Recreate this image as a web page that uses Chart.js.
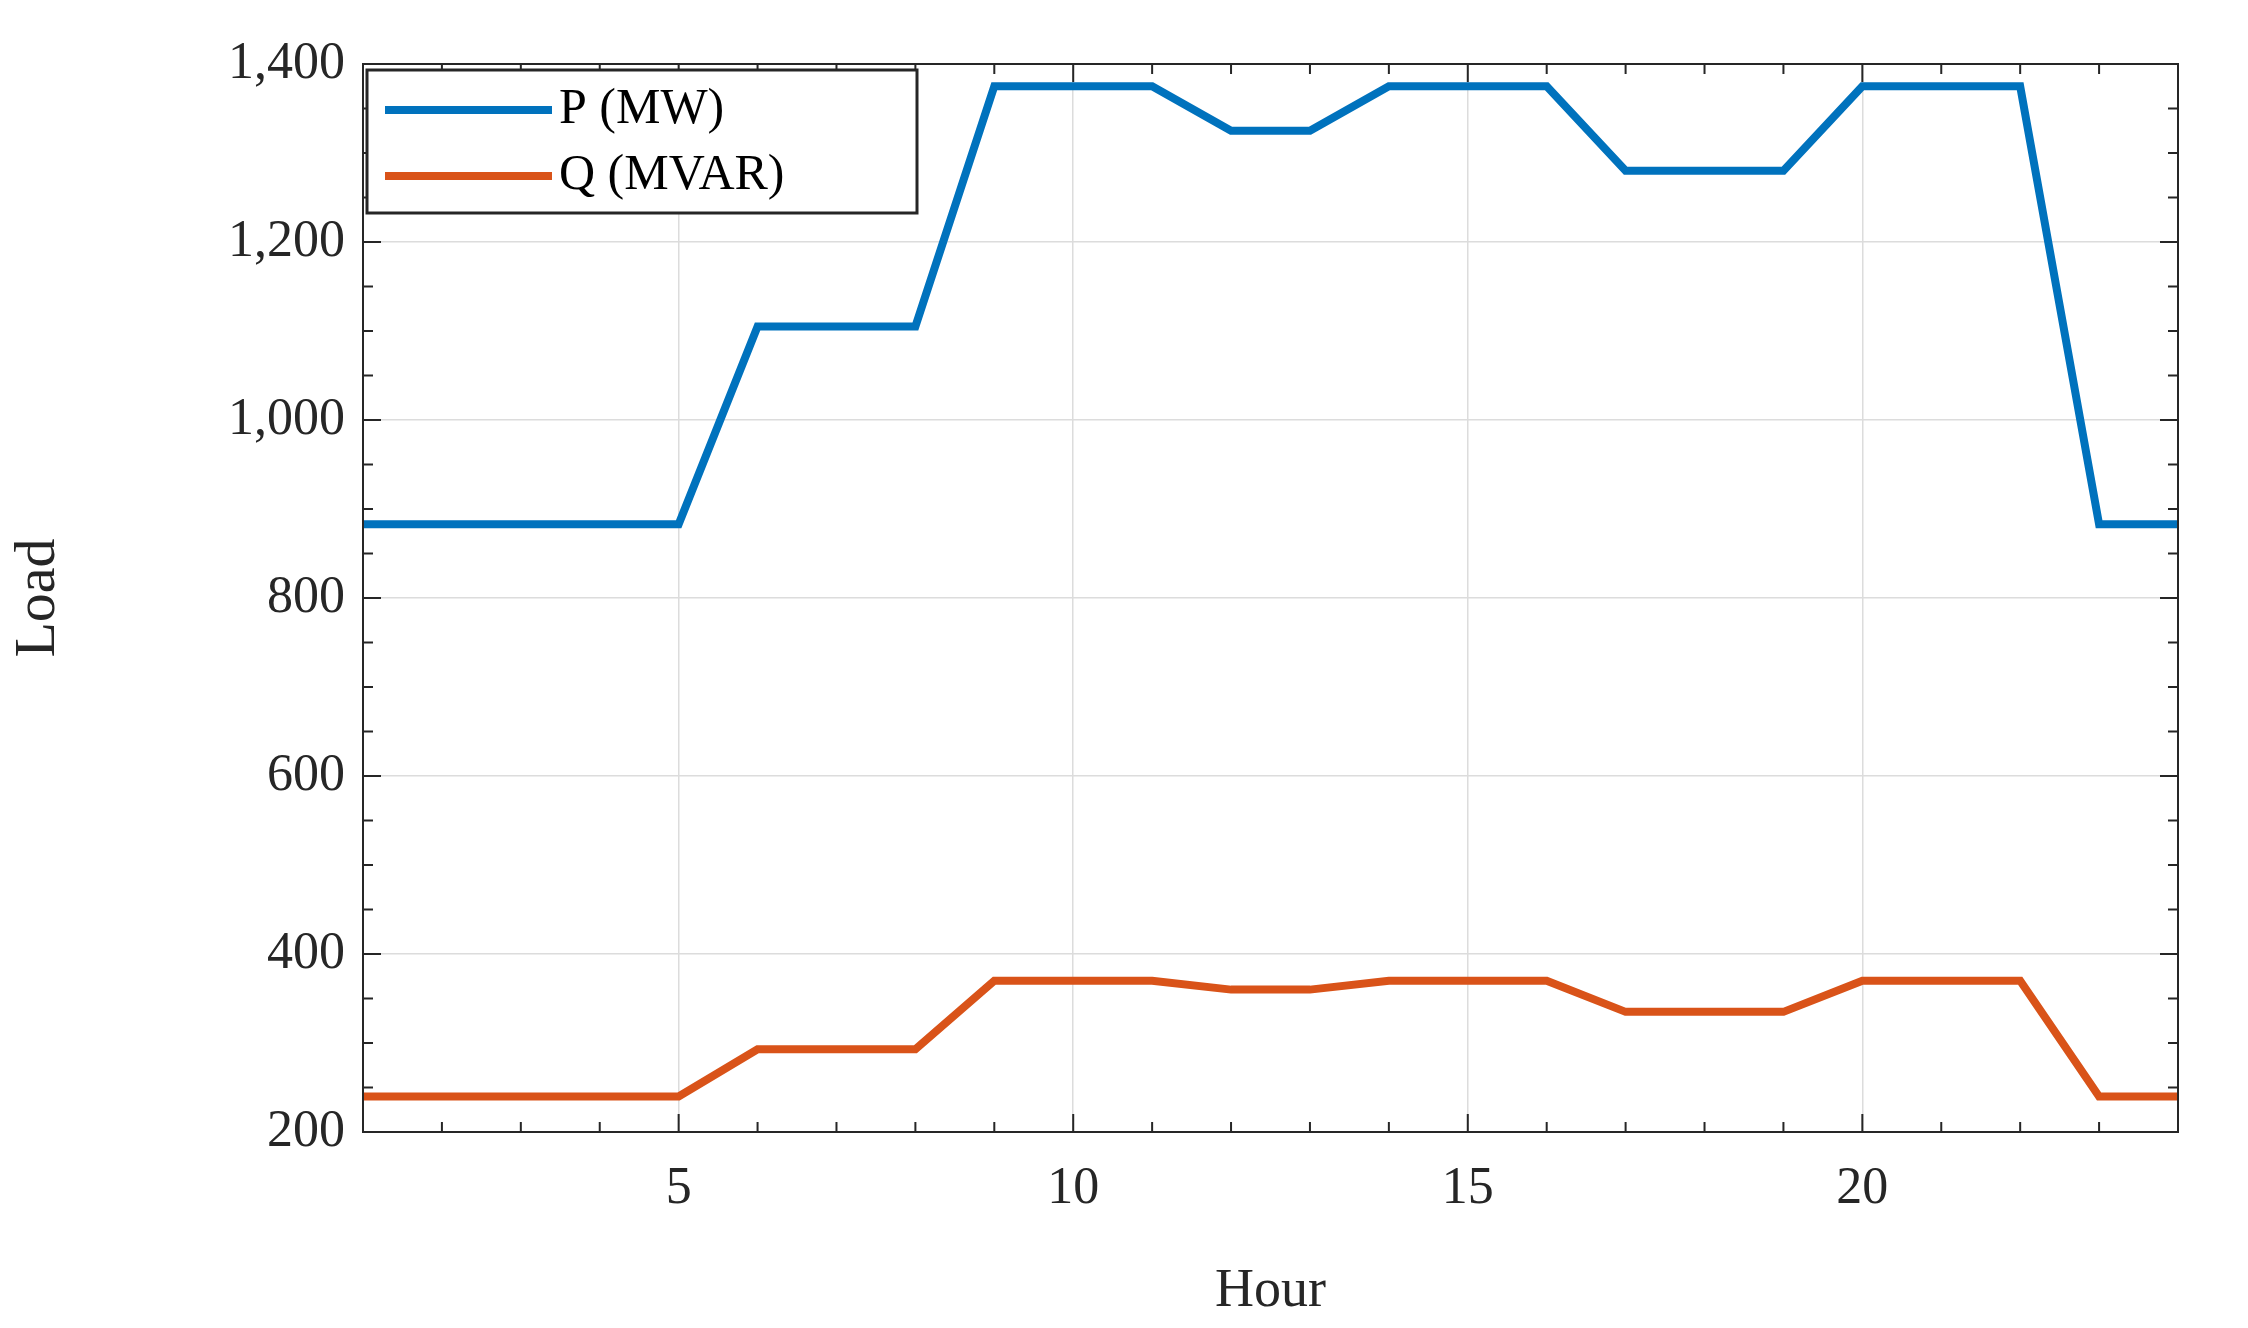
<!DOCTYPE html>
<html>
<head>
<meta charset="utf-8">
<script src="https://cdn.jsdelivr.net/npm/chart.js@4.4.1/dist/chart.umd.min.js"></script>
<style>
html, body { margin: 0; padding: 0; background: #fff; }
#wrap { width: 2248px; height: 1328px; }
</style>
</head>
<body>
<div id="wrap"><canvas id="c" width="2248" height="1328"></canvas></div>
<script>
const hours = [1,2,3,4,5,6,7,8,9,10,11,12,13,14,15,16,17,18,19,20,21,22,23,24];
const pLoad = [883,883,883,883,883,1105,1105,1105,1375,1375,1375,1325,1325,1375,1375,1375,1280,1280,1280,1375,1375,1375,883,883];
const qLoad = [240,240,240,240,240,293,293,293,370,370,370,360,360,370,370,370,335,335,335,370,370,370,240,240];
const xTicks = [5,10,15,20];
const yTicks = [200,400,600,800,1000,1200,1400];
const seriesNames = ["P (MW)", "Q (MVAR)"];
const colors = ["#0072BD", "#D95319"];

const font = "Liberation Serif";

// box, inner ticks and legend, MATLAB style
const boxPlugin = {
    id: "box",
    afterDraw(chart) {
        const ctx = chart.ctx;
        const a = chart.chartArea;
        const xs = chart.scales.x, ys = chart.scales.y;
        ctx.save();
        ctx.strokeStyle = "#262626";
        ctx.lineWidth = 2;
        ctx.strokeRect(a.left, a.top, a.right - a.left, a.bottom - a.top);
        ctx.beginPath();
        for (let h = 1; h <= 24; h++) {
            const x = xs.getPixelForValue(h);
            const len = xTicks.includes(h) ? 18 : 10;
            ctx.moveTo(x, a.bottom); ctx.lineTo(x, a.bottom - len);
            ctx.moveTo(x, a.top); ctx.lineTo(x, a.top + len);
        }
        for (let v = 200; v <= 1400; v += 50) {
            const y = ys.getPixelForValue(v);
            const len = v % 200 === 0 ? 18 : 10;
            ctx.moveTo(a.left, y); ctx.lineTo(a.left + len, y);
            ctx.moveTo(a.right, y); ctx.lineTo(a.right - len, y);
        }
        ctx.stroke();

        // legend
        const lx = a.left + 4, ly = a.top + 6, lw = 550, lh = 143;
        ctx.fillStyle = "#fff";
        ctx.fillRect(lx, ly, lw, lh);
        ctx.lineWidth = 3;
        ctx.strokeStyle = "#262626";
        ctx.strokeRect(lx, ly, lw, lh);
        ctx.font = "50px '" + font + "'";
        ctx.textBaseline = "middle";
        seriesNames.forEach((n, i) => {
            const y = ly + 40 + i * 66;
            ctx.strokeStyle = colors[i];
            ctx.lineWidth = 8;
            ctx.beginPath();
            ctx.moveTo(lx + 18, y); ctx.lineTo(lx + 185, y);
            ctx.stroke();
            ctx.fillStyle = "#000";
            ctx.fillText(n, lx + 192, y);
        });
        ctx.restore();
    }
};

new Chart(document.getElementById("c"), {
    type: "line",
    data: {
        datasets: seriesNames.map((n, i) => ({
            label: n,
            data: hours.map((h, k) => ({ x: h, y: (i === 0 ? pLoad : qLoad)[k] })),
            borderColor: colors[i],
            borderWidth: 8,
            pointRadius: 0,
            tension: 0
        }))
    },
    options: {
        responsive: false,
        animation: false,
        layout: { padding: { top: 64, right: 70, left: 0, bottom: 0 } },
        plugins: { legend: { display: false }, tooltip: { enabled: false } },
        scales: {
            x: {
                type: "linear", min: 1, max: 24,
                afterBuildTicks: s => { s.ticks = xTicks.map(v => ({ value: v })); },
                afterFit: s => { s.height = 196; },
                grid: { color: "#dcdcdc", lineWidth: 1.5, drawTicks: false },
                border: { display: false },
                ticks: { color: "#262626", font: { family: font, size: 52 }, padding: 26 },
                title: { display: true, text: "Hour", color: "#262626", font: { family: font, size: 54 }, padding: { top: 0 } }
            },
            y: {
                min: 200, max: 1400,
                afterBuildTicks: s => { s.ticks = yTicks.map(v => ({ value: v })); },
                afterFit: s => { s.width = 363; },
                grid: { color: "#dcdcdc", lineWidth: 1.5, drawTicks: false },
                border: { display: false },
                ticks: { color: "#262626", font: { family: font, size: 52 }, padding: 18 },
                title: { display: true, text: "Load", color: "#262626", font: { family: font, size: 58 }, padding: { bottom: 40 } }
            }
        }
    },
    plugins: [boxPlugin]
});
</script>
</body>
</html>
